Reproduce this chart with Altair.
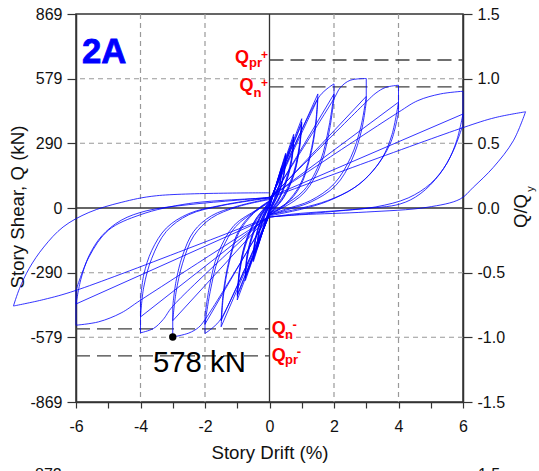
import altair as alt
import pandas as pd

FONT = "Liberation Sans"

# ---------------- hysteresis cycles: story drift (%) and story shear (kN) ----------------
c0375a_x = [0, 0.375, 0.34, 0.22, 0.08, 0, -0.375, -0.34, -0.22, -0.08, 0]
c0375a_q = [0, 185, 130, 70, 20, 5, -180, -125, -65, -15, 5]
c0375b_x = [0, 0.375, 0.34, 0.22, 0.08, 0, -0.375, -0.34, -0.22, -0.08, 0]
c0375b_q = [5, 178, 122, 64, 16, -8, -172, -118, -60, -12, 8]
c0375c_x = [0, 0.375, 0.34, 0.22, 0.08, 0, -0.375, -0.34, -0.22, -0.08, 0]
c0375c_q = [8, 172, 118, 60, 14, -10, -168, -114, -58, -10, 8]
c05a_x = [0, 0.5, 0.46, 0.3, 0.1, 0, -0.5, -0.46, -0.3, -0.1, 0]
c05a_q = [8, 245, 170, 80, 15, -10, -240, -165, -75, -12, 12]
c05b_x = [0, 0.5, 0.46, 0.3, 0.1, 0, -0.5, -0.46, -0.3, -0.1, 0]
c05b_q = [12, 238, 162, 74, 12, -14, -232, -158, -70, -8, 15]
c05c_x = [0, 0.5, 0.46, 0.3, 0.1, 0, -0.5, -0.46, -0.3, -0.1, 0]
c05c_q = [15, 232, 156, 70, 10, -16, -228, -152, -66, -6, 15]
c075a_x = [0, 0.75, 0.70, 0.52, 0.25, 0, -0.75, -0.70, -0.52, -0.25, 0]
c075a_q = [15, 330, 240, 130, 35, -15, -325, -235, -125, -35, 18]
c075b_x = [0, 0.75, 0.70, 0.52, 0.25, 0, -0.75, -0.70, -0.52, -0.25, 0]
c075b_q = [18, 318, 228, 120, 30, -18, -312, -222, -118, -30, 20]
c075c_x = [0, 0.75, 0.70, 0.52, 0.25, 0, -0.75, -0.70, -0.52, -0.25, 0]
c075c_q = [20, 310, 220, 115, 27, -20, -305, -215, -112, -27, 20]
c10a_x = [0, 1.0, 0.93, 0.75, 0.45, 0.15, 0, -1.0, -0.93, -0.75, -0.45, -0.15, 0]
c10a_q = [20, 400, 285, 160, 60, 0, -25, -412, -295, -170, -65, -5, 25]
c10b_x = [0, 1.0, 0.93, 0.75, 0.45, 0.15, 0, -1.0, -0.93, -0.75, -0.45, -0.15, 0]
c10b_q = [25, 385, 272, 150, 52, -4, -28, -395, -282, -160, -58, 0, 28]
c10c_x = [0, 1.0, 0.93, 0.75, 0.45, 0.15, 0, -1.0, -0.93, -0.75, -0.45, -0.15, 0]
c10c_q = [28, 378, 266, 145, 48, -6, -30, -388, -276, -155, -55, 2, 28]
c15a_x = [0, 1.5, 1.43, 1.25, 0.95, 0.5, 0, -1.5, -1.43, -1.25, -0.95, -0.5, 0]
c15a_q = [28, 511, 380, 235, 105, 20, -30, -532, -395, -245, -110, -25, 30]
c15b_x = [0, 1.5, 1.43, 1.25, 0.95, 0.5, 0, -1.5, -1.43, -1.25, -0.95, -0.5, 0]
c15b_q = [30, 490, 362, 222, 96, 15, -32, -505, -375, -232, -100, -20, 33]
c20a_x = [0, 1.5, 1.75, 2.0, 2.0, 1.84, 1.58, 1.06, 0.33, 0,
          -1.5, -1.75, -2.0, -2.0, -1.84, -1.58, -1.06, -0.33, 0]
c20a_q = [33, 490, 530, 556, 511, 362, 212, 78, 3, -19,
          -495, -535, -562, -520, -375, -225, -85, -5, 25]
c20b_x = [0, 2.0, 2.0, 1.86, 1.6, 1.1, 0.4, 0, -2.0, -2.0, -1.86, -1.6, -1.1, -0.4, 0]
c20b_q = [25, 511, 490, 350, 200, 72, 0, -22, -520, -482, -350, -205, -78, -8, 30]
c30a_x = [0, 2.0, 2.2, 2.5, 3.0, 3.0, 2.83, 2.52, 2.0, 1.27, 0.5, 0,
          -2.0, -2.2, -2.5, -3.0, -3.0, -2.9, -2.7, -2.35, -1.8, -1.0, 0]
c30a_q = [30, 490, 540, 572, 580, 500, 362, 227, 108, 33, -5, -28,
          -500, -535, -560, -578, -505, -380, -250, -125, -45, 5, 38]
c30b_x = [0, 3.0, 3.0, 2.85, 2.55, 2.05, 1.3, 0.5, 0, -3.0, -3.0, -2.9, -2.7, -2.35, -1.8, -1.0, 0]
c30b_q = [38, 500, 475, 345, 215, 100, 28, -10, -32, -505, -440, -330, -215, -105, -35, 8, 42]
c40a_x = [0, 3.0, 3.3, 3.6, 4.0, 4.0, 3.8, 3.5, 3.1, 2.6, 1.8, 1.0, 0,
          -3.0, -3.3, -3.6, -4.0, -4.0, -3.9, -3.65, -3.2, -2.5, -1.5, 0]
c40a_q = [42, 475, 515, 540, 550, 474, 330, 225, 150, 88, 33, 0, -30,
          -440, -500, -540, -559, -488, -355, -225, -105, -30, 10, 45]
c40b_x = [0, 4.0, 4.0, 3.75, 3.2, 2.65, 1.8, 1.0, 0, -4.0, -4.0, -3.9, -3.65, -3.2, -2.5, -1.5, 0]
c40b_q = [45, 474, 429, 290, 165, 93, 30, -5, -35, -488, -413, -300, -190, -90, -25, 12, 48]
c60a_x = [0, 4.0, 4.6, 5.3, 6.0, 6.0, 5.8, 5.5, 5.0, 4.3, 3.3, 2.0, 0,
          -4.0, -4.6, -5.3, -6.0, -6.0, -5.85, -5.6, -5.2, -4.6, -3.8, -2.5, -1.0, 0]
c60a_q = [48, 429, 481, 511, 523, 421, 300, 200, 110, 45, 5, -15, -40,
          -413, -470, -510, -525, -430, -320, -215, -125, -55, -12, 15, 35, 48]
c60b_x = [0, 6.0, 6.0, 5.7, 5.28, 4.67, 4.05, 2.81, 0.74, 0, -6.0, -6.0, -5.6, -5.0, -4.0, -2.5, 0]
c60b_q = [48, 421, 373, 257, 152, 63, 18, -4, -27, -42, -430, -369, -220, -100, -30, 20, 45]
c80_x = [0, 6.0, 7.0, 7.94, 7.56, 6.94, 6.32, 5.91, 4.88, 3.0, 1.0, 0,
         -6.0, -7.0, -7.94, -7.75, -7.45, -7.0, -6.4, -5.6, -4.6, -3.5, 0]
c80_q = [45, 360, 405, 431, 301, 182, 93, 40, 3, -18, -30, -40,
         -369, -410, -439, -360, -270, -175, -85, -20, 25, 55, 68]

# reference strengths (kN) and the marked peak
q_pr_pos, q_n_pos = 663, 543
q_n_neg, q_pr_neg = -541, -662
peak_x, peak_q = [-3.0], [-578]

# axes
x_ticks = list(range(-6, 7))
y_ticks = [-869, -579, -290, 0, 290, 579, 869]
r_ticks = [-1.5, -1.0, -0.5, 0.0, 0.5, 1.0, 1.5]
grid_x = [-4, -2, 2, 4]
grid_y = [-579, -290, 290, 579]

# ---------------- build path (split into smooth pieces at reversal / corner points) ----------------
cycles = [(c0375a_x, c0375a_q), (c0375b_x, c0375b_q), (c0375c_x, c0375c_q),
          (c05a_x, c05a_q), (c05b_x, c05b_q), (c05c_x, c05c_q),
          (c075a_x, c075a_q), (c075b_x, c075b_q), (c075c_x, c075c_q),
          (c10a_x, c10a_q), (c10b_x, c10b_q), (c10c_x, c10c_q),
          (c15a_x, c15a_q), (c15b_x, c15b_q), (c20a_x, c20a_q), (c20b_x, c20b_q),
          (c30a_x, c30a_q), (c30b_x, c30b_q), (c40a_x, c40a_q), (c40b_x, c40b_q),
          (c60a_x, c60a_q), (c60b_x, c60b_q), (c80_x, c80_q)]
px, pq = [], []
for xs, qs in cycles:
    for xv, qv in zip(xs, qs):
        if px and px[-1] == xv and pq[-1] == qv:
            continue
        px.append(xv)
        pq.append(qv)
rows = []
seg = 0
n = len(px)
for i in range(n):
    rows.append({"seg": seg, "o": i, "x": px[i], "q": pq[i]})
    if 0 < i < n - 1:
        brk = (px[i] == 0 or px[i] == px[i - 1] or px[i] == px[i + 1]
               or (px[i] - px[i - 1]) * (px[i + 1] - px[i]) < 0)
        if brk:
            seg += 1
            rows.append({"seg": seg, "o": i, "x": px[i], "q": pq[i]})
hyst_df = pd.DataFrame(rows)

# ---------------- scales / axes ----------------
x_scale = alt.Scale(domain=[-6, 6], nice=False, zero=False)
y_scale = alt.Scale(domain=[-869, 869], nice=False, zero=False)
x_axis = alt.Axis(values=x_ticks,
                  labelExpr="datum.value % 2 == 0 ? (datum.value < 0 ? '-' + abs(datum.value) : '' + datum.value) : ''",
                  tickSize=6, labelPadding=10, labelFontSize=16, labelFont=FONT, labelColor="#111",
                  labelFlush=False, labelOverlap=False,
                  title="Story Drift (%)", titleFontSize=18.67, titleFont=FONT, titleFontWeight="normal",
                  titleColor="#111", titleY=50.7, titleBaseline="middle",
                  grid=False, domainColor="#333", domainWidth=1.5, tickColor="#333", tickWidth=1.2)
y_axis = alt.Axis(values=y_ticks,
                  labelExpr="datum.value < 0 ? '-' + abs(datum.value) : '' + datum.value",
                  tickSize=9, labelPadding=5, labelFontSize=16, labelFont=FONT, labelColor="#111",
                  labelFlush=False, labelOverlap=False,
                  title="Story Shear, Q (kN)", titleFontSize=18.67, titleFont=FONT, titleFontWeight="normal",
                  titleColor="#111", titleAngle=270, titleX=-58.6, titleY=192.5, titleBaseline="middle",
                  titleAlign="center",
                  grid=False, domainColor="#333", domainWidth=1.5, tickColor="#333", tickWidth=1.2)
r_axis = alt.Axis(values=r_ticks, orient="right",
                  labelExpr="replace(format(datum.value, '.1f'), '\u2212', '-')",
                  tickSize=9, labelPadding=5, labelFontSize=16, labelFont=FONT, labelColor="#111",
                  labelFlush=False, labelOverlap=False,
                  title=None, grid=False, domainColor="#333", domainWidth=1.5, tickColor="#333", tickWidth=1.2)

X = alt.X("x:Q", scale=x_scale, axis=x_axis)
Y = alt.Y("q:Q", scale=y_scale, axis=y_axis)

grid_v = alt.Chart(pd.DataFrame({"x": grid_x})).mark_rule(
    color="#999999", strokeWidth=1.2, strokeDash=[5, 4]).encode(x=X)
grid_h = alt.Chart(pd.DataFrame({"q": grid_y})).mark_rule(
    color="#999999", strokeWidth=1.2, strokeDash=[5, 4]).encode(y=Y)
zero_v = alt.Chart(pd.DataFrame({"x": [0]})).mark_rule(color="#333333", strokeWidth=1.3).encode(x=X)
zero_h = alt.Chart(pd.DataFrame({"q": [0]})).mark_rule(color="#333333", strokeWidth=1.3).encode(y=Y)

qlines_df = pd.DataFrame({"x": [0, 0, -6, -6], "x2": [6, 6, 0, 0],
                          "q": [q_pr_pos, q_n_pos, q_n_neg, q_pr_neg]})
qlines = alt.Chart(qlines_df).mark_rule(color="#404040", strokeWidth=1.3, strokeDash=[14, 7]).encode(
    x=X, x2="x2:Q", y=Y)

hyst = alt.Chart(hyst_df).mark_line(interpolate="catmull-rom", color="#0000ff", strokeWidth=0.8).encode(
    x=X, y=Y, detail="seg:N", order="o:Q")

dot = alt.Chart(pd.DataFrame({"x": peak_x, "q": peak_q})).mark_point(
    filled=True, color="#000000", size=55, opacity=1).encode(x=X, y=Y)


def label(txt, xv, qv, dx, dy, size, align="left", baseline="alphabetic",
          color="#ff0000", weight="bold", stroke=None):
    kw = dict(align=align, baseline=baseline, dx=dx, dy=dy, fontSize=size,
              fontWeight=weight, color=color, font=FONT)
    if stroke:
        kw.update(stroke=stroke, strokeWidth=0.8)
    return alt.Chart(pd.DataFrame({"x": [xv], "q": [qv], "t": [txt]})).mark_text(**kw).encode(
        x=X, y=Y, text="t:N")


labels = [
    label("Q", 0, q_pr_pos, -20.5, 3.5, 18, align="right"),
    label("pr", 0, q_pr_pos, -20.5, 7.5, 13),
    label("+", 0, q_pr_pos, -5, -4.5, 12, align="center", baseline="middle"),
    label("Q", 0, q_n_pos, -16, 4.7, 18, align="right"),
    label("n", 0, q_n_pos, -16, 10, 13),
    label("+", 0, q_n_pos, -5, -4, 12, align="center", baseline="middle"),
    label("Q", 0, q_n_neg, 2.2, 5.7, 18),
    label("n", 0, q_n_neg, 15.5, 10.5, 13),
    label("-", 0, q_n_neg, 25.2, -3.8, 13, align="center", baseline="middle"),
    label("Q", 0, q_pr_neg, 2.2, 5.2, 18),
    label("pr", 0, q_pr_neg, 15.5, 8.7, 13),
    label("-", 0, q_pr_neg, 29.3, -4, 13, align="center", baseline="middle"),
    label("2A", -6, 869, 6, 49, 34.7, color="#0000ff", stroke="#0000ff"),
    label("578 kN", peak_x[0], peak_q[0], -19.75, 34.7, 29.3, color="#000000", weight="normal"),
]

one = pd.DataFrame({"t": [""]})


def ptext(txt, xp, yp, size, align="center", baseline="alphabetic", angle=0):
    kw = dict(align=align, baseline=baseline, fontSize=size, font=FONT, color="#111", text=txt)
    if angle:
        kw["angle"] = angle
    return alt.Chart(one).mark_text(**kw).encode(x=alt.value(xp), y=alt.value(yp))


extras = [
    ptext("Q/Q", 451, 197, 18.67, angle=270),
    ptext("y", 455, 175, 11, angle=270, baseline="middle"),
    ptext("872", -14.3, 465.8, 16, align="right"),
    ptext("1.5", 402, 465.8, 16, align="left"),
]

inner = alt.layer(grid_v, grid_h, zero_v, zero_h, qlines, hyst, dot, *labels, *extras)

right = alt.Chart(pd.DataFrame({"r": [-1.5, 1.5]})).mark_point(opacity=0).encode(
    y=alt.Y("r:Q", scale=alt.Scale(domain=[-1.5, 1.5], nice=False, zero=False), axis=r_axis))

chart = alt.layer(inner, right).resolve_scale(y="independent").properties(
    width=387, height=388,
    padding={"left": 76, "top": 14, "right": 76, "bottom": 69},
    autosize=alt.AutoSizeParams(type="none"),
    background="white",
).configure_view(stroke="#333333", strokeWidth=1.5)

chart.save("out.html", embed_options={"renderer": "svg", "actions": False})
